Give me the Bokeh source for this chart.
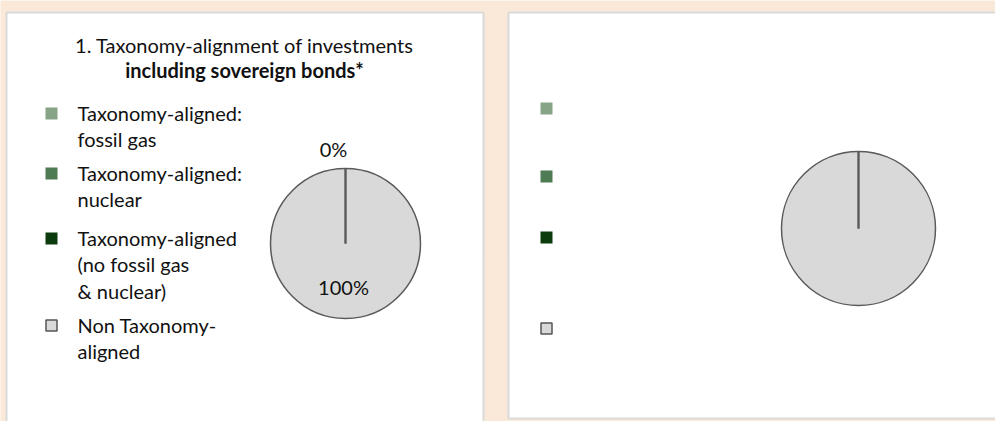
import math
from bokeh.plotting import figure
from bokeh.models import Range1d, ColumnDataSource
from bokeh.core.properties import value
from bokeh.embed import file_html
from bokeh.resources import INLINE

# ---- data ----
categories = ["Taxonomy-aligned:\nfossil gas",
              "Taxonomy-aligned:\nnuclear",
              "Taxonomy-aligned\n(no fossil gas\n& nuclear)",
              "Non Taxonomy-\naligned"]
colors = ["#87a487", "#4e7b53", "#0c3c0e", "#d9d9d9"]
values_incl = [0, 0, 0, 100]
values_excl = [0, 0, 0, 100]
title_line1 = "1. Taxonomy-alignment of investments"
title_line2 = "including sovereign bonds*"

FONT = "Lato"
FS = "20px"
PEACH = "#fae8d8"
EDGE = "#5a5a5a"
H = 421  # y data = H - page_y

p = figure(width=995, height=421, output_backend="svg", toolbar_location=None,
           x_range=Range1d(0, 995), y_range=Range1d(0, H),
           min_border=0)
p.axis.visible = False
p.grid.visible = False
p.outline_line_color = None
p.background_fill_color = PEACH
p.border_fill_color = PEACH

# panels
p.quad(left=[6, 508], right=[483, 1010], top=[H - 12, H - 12], bottom=[-20, H - 418],
       fill_color="white", line_color="#d9d9d9", line_width=2)


def pie(cx, cy, r, vals, with_labels):
    total = sum(vals)
    cum = 0
    starts, ends = [], []
    fx, fy, fs, fe, fc = [], [], [], [], []
    for v, c in zip(vals, colors):
        s = math.pi / 2 - 2 * math.pi * cum / total
        cum += v
        e = math.pi / 2 - 2 * math.pi * cum / total
        starts.append(s)
        ends.append(e)
        if v > 0:
            m = (s + e) / 2  # split each slice in two halves so a full slice still renders
            for a, b in ((s, m), (m, e)):
                fx.append(cx); fy.append(cy); fs.append(a); fe.append(b); fc.append(c)
    src = ColumnDataSource(dict(x=fx, y=fy, s=fs, e=fe, c=fc))
    p.wedge(x="x", y="y", radius=r, start_angle="s", end_angle="e",
            direction="clock", fill_color="c", line_color="c", line_width=0.5,
            source=src)
    # outline and slice edges
    p.circle(x=[cx], y=[cy], radius=r, fill_color=None, line_color=EDGE, line_width=1.5)
    p.ray(x=[cx] * len(starts), y=[cy] * len(starts), length=r, angle=starts,
          line_color=EDGE, line_width=1.5)
    if with_labels:
        p.text(x=[cx - 12], y=[cy + r * 1.15 + 8], text=[f"{vals[0]}%"],
               text_font=value(FONT), text_font_size=FS,
               text_align="center", text_baseline="alphabetic", text_color="#111111")
        mid = (starts[-1] + ends[-1]) / 2
        p.text(x=[cx + 0.6 * r * math.cos(mid) - 2], y=[cy + 0.6 * r * math.sin(mid) + 2],
               text=[f"{vals[-1]}%"], text_font=value(FONT), text_font_size=FS,
               text_align="center", text_baseline="alphabetic", text_color="#111111")


def legend(x, ys, with_text):
    p.scatter(x=[x] * 3, y=ys[:3], marker="square", size=12,
              fill_color=colors[:3], line_color=None)
    p.scatter(x=[x], y=[ys[3]], marker="square", size=11,
              fill_color=colors[3], line_color="#555555", line_width=1.5)
    if with_text:
        p.text(x=[x + 26] * 4, y=[yy + 13 for yy in ys], text=categories,
               text_font=value(FONT), text_font_size=FS, text_line_height=1.11,
               text_align="left", text_baseline="top", text_color="#111111")


# left panel
p.text(x=[244], y=[H - 44], text=[title_line1], text_font=value(FONT),
       text_font_size=FS, text_align="center", text_baseline="alphabetic",
       text_color="#111111")
p.text(x=[244], y=[H - 69], text=[title_line2], text_font=value(FONT),
       text_font_size=FS, text_font_style="bold", text_align="center",
       text_baseline="alphabetic", text_color="#111111")
legend(51, [H - 113, H - 173, H - 238, H - 325], True)
pie(345, H - 243, 75, values_incl, True)

# right panel
legend(546, [H - 108, H - 176, H - 237, H - 328], False)
pie(858, H - 228, 77, values_excl, False)

open("out.html", "w").write(file_html(p, INLINE))
